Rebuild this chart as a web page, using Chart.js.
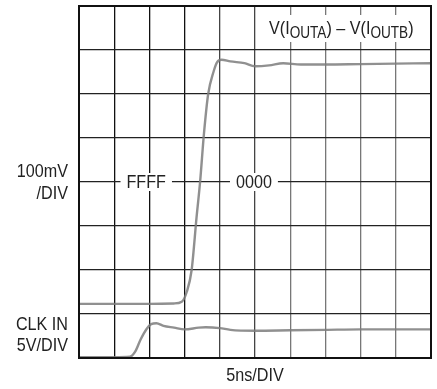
<!DOCTYPE html>
<html>
<head>
<meta charset="utf-8">
<script src="https://cdn.jsdelivr.net/npm/chart.js@4/dist/chart.umd.min.js"></script>
<style>
  html, body { margin: 0; padding: 0; background: #fff; }
  #wrap { width: 437px; height: 389px; }
</style>
</head>
<body>
<div id="wrap"><canvas id="scope" width="437" height="389"></canvas></div>
<script>
// time in divisions (5ns/DIV), level in divisions from bottom of screen
const outTime = [0, 1, 2, 2.7, 2.92, 3.06, 3.2, 3.34, 3.44, 3.55, 3.67, 3.82, 3.92, 4.05, 4.3, 4.7, 5.0, 5.4, 5.8, 6.3, 7, 8, 9, 10];
const outLevel = [1.23, 1.23, 1.23, 1.24, 1.28, 1.5, 2.0, 3.2, 4.0, 5.1, 6.0, 6.5, 6.72, 6.78, 6.74, 6.7, 6.63, 6.65, 6.7, 6.67, 6.67, 6.68, 6.69, 6.7];

const clkTime = [0, 1.0, 1.45, 1.6, 1.75, 1.92, 2.05, 2.2, 2.4, 2.7, 3.0, 3.4, 3.6, 4.0, 4.3, 5, 6, 7, 8, 9, 10];
const clkLevel = [0.02, 0.02, 0.03, 0.15, 0.42, 0.66, 0.77, 0.79, 0.73, 0.69, 0.65, 0.69, 0.7, 0.68, 0.64, 0.62, 0.63, 0.64, 0.65, 0.65, 0.65];

const codeLabels = ['FFFF', '0000'];
const codeTime = [1.91, 4.97];
const codeLevel = 4;

const FONT = '"Liberation Sans", Arial, sans-serif';
const SQUEEZE = 0.85; // condensed look

function toPoints(xs, ys) {
  return xs.map((x, i) => ({ x: x, y: ys[i] }));
}

// draw text squeezed horizontally, returns drawn width
function narrowText(ctx, text, x, y, align) {
  const w = ctx.measureText(text).width * SQUEEZE;
  let left = x;
  if (align === 'right') left = x - w;
  if (align === 'center') left = x - w / 2;
  ctx.save();
  ctx.translate(left, y);
  ctx.scale(SQUEEZE, 1);
  ctx.textAlign = 'left';
  ctx.fillText(text, 0, 0);
  ctx.restore();
  return w;
}

// frame, code labels and axis captions
const scopeText = {
  id: 'scopeText',
  afterDatasetsDraw(chart) {
    const ctx = chart.ctx;
    const a = chart.chartArea;
    const xs = chart.scales.x, ys = chart.scales.y;
    ctx.save();

    ctx.strokeStyle = '#111';
    ctx.lineWidth = 2;
    ctx.strokeRect(a.left, a.top, a.right - a.left, a.bottom - a.top);

    ctx.font = '19px ' + FONT;
    ctx.textBaseline = 'middle';
    codeLabels.forEach((t, i) => {
      const cx = xs.getPixelForValue(codeTime[i]);
      const cy = ys.getPixelForValue(codeLevel);
      const w = ctx.measureText(t).width * SQUEEZE;
      ctx.fillStyle = '#fff';
      ctx.fillRect(cx - w / 2 - 6, cy - 9, w + 12, 18);
      ctx.fillStyle = '#222';
      narrowText(ctx, t, cx, cy + 1, 'center');
    });

    // V(IOUTA) – V(IOUTB) with subscripts
    const parts = [['V(I', false], ['OUTA', true], [') \u2013 V(I', false], ['OUTB', true], [')', false]];
    let x = 269;
    const base = 34;
    ctx.textBaseline = 'alphabetic';
    let total = 0;
    parts.forEach(p => {
      ctx.font = (p[1] ? '16px ' : '19px ') + FONT;
      total += ctx.measureText(p[0]).width * SQUEEZE;
    });
    ctx.fillStyle = '#fff';
    ctx.fillRect(x - 2, 15, total + 4, 27);
    ctx.fillStyle = '#222';
    parts.forEach(p => {
      ctx.font = (p[1] ? '16px ' : '19px ') + FONT;
      x += narrowText(ctx, p[0], x, p[1] ? base + 4 : base, 'left');
    });

    ctx.font = '19px ' + FONT;
    ctx.textBaseline = 'middle';
    narrowText(ctx, '100mV', 68, 172, 'right');
    narrowText(ctx, '/DIV', 68, 194, 'right');
    narrowText(ctx, 'CLK IN', 68, 325, 'right');
    narrowText(ctx, '5V/DIV', 68, 346, 'right');
    narrowText(ctx, '5ns/DIV', 255, 376, 'center');
    ctx.restore();
  }
};

const traceStyle = {
  showLine: true,
  borderColor: 'rgba(125,125,125,0.85)',
  borderWidth: 2.4,
  pointRadius: 0,
  cubicInterpolationMode: 'monotone'
};

new Chart(document.getElementById('scope'), {
  type: 'scatter',
  data: {
    datasets: [
      Object.assign({ label: 'V(IOUTA) - V(IOUTB)', data: toPoints(outTime, outLevel) }, traceStyle),
      Object.assign({ label: 'CLK IN', data: toPoints(clkTime, clkLevel) }, traceStyle)
    ]
  },
  options: {
    responsive: false,
    animation: false,
    layout: { padding: { left: 79, top: 6, right: 6, bottom: 31 } },
    plugins: { legend: { display: false }, tooltip: { enabled: false } },
    scales: {
      x: {
        type: 'linear', min: 0, max: 10,
        ticks: { display: false, stepSize: 1 },
        border: { display: false },
        grid: {
          drawTicks: false,
          lineWidth: 1.3,
          color: c => c.tick.value <= 3 ? '#111' : (c.tick.value <= 5 ? '#444' : '#777')
        }
      },
      y: {
        type: 'linear', min: 0, max: 8,
        ticks: { display: false, stepSize: 1 },
        border: { display: false },
        grid: { drawTicks: false, lineWidth: 1.3, color: '#222' }
      }
    }
  },
  plugins: [scopeText]
});
</script>
</body>
</html>
